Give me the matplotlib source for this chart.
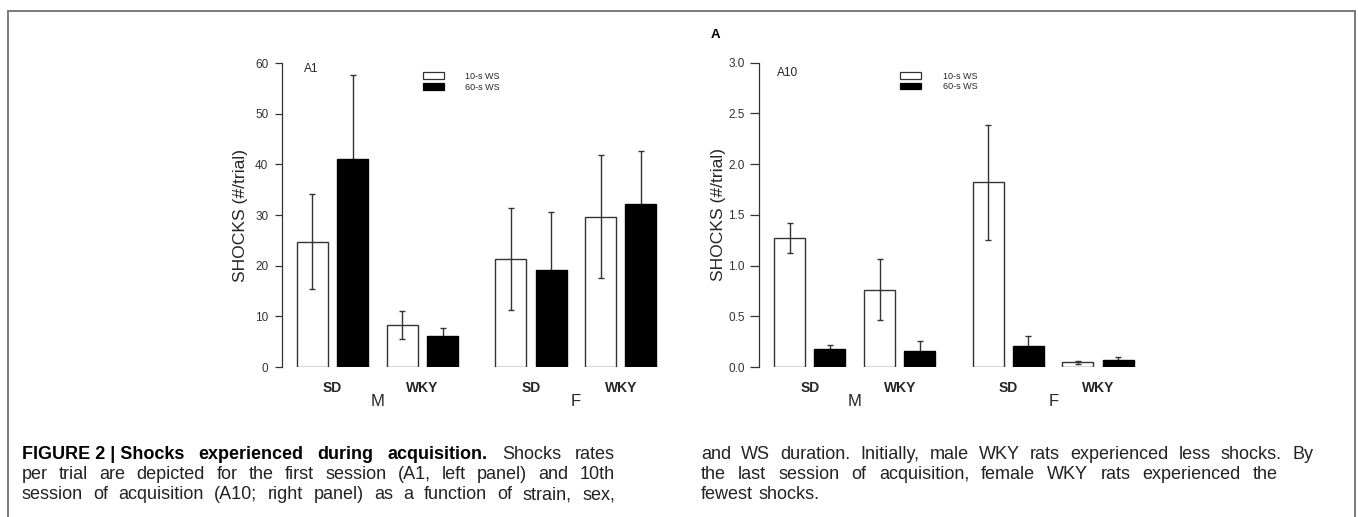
import numpy as np
import matplotlib
matplotlib.use('Agg')
import matplotlib.pyplot as plt
import matplotlib.patches as mpatches
from matplotlib.transforms import blended_transform_factory

plt.rcParams['font.family'] = ['Liberation Sans', 'DejaVu Sans']

# groups: M-SD, M-WKY, F-SD, F-WKY
sexes = ['M', 'F']
strains = ['SD', 'WKY', 'SD', 'WKY']
ws_labels = ['10-s WS', '60-s WS']

# A1 (first session), shocks per trial
a1_10s = [24.7, 8.3, 21.3, 29.7]
a1_10s_err = [9.4, 2.7, 10.1, 12.2]
a1_60s = [41.1, 6.2, 19.1, 32.2]
a1_60s_err = [16.6, 1.5, 11.5, 10.5]

# A10 (10th session)
a10_10s = [1.27, 0.76, 1.82, 0.046]
a10_10s_err = [0.15, 0.30, 0.57, 0.015]
a10_60s = [0.177, 0.155, 0.207, 0.066]
a10_60s_err = [0.04, 0.105, 0.10, 0.03]

caption_left = [
    [('FIGURE 2 | Shocks', 'bold'), ('experienced', 'bold'), ('during', 'bold'),
     ('acquisition.', 'bold'), ('Shocks', 'normal'), ('rates', 'normal')],
    'per trial are depicted for the first session (A1, left panel) and 10th',
    'session of acquisition (A10; right panel) as a function of strain, sex,',
]
caption_right = [
    'and WS duration. Initially, male WKY rats experienced less shocks. By',
    'the last session of acquisition, female WKY rats experienced the',
    'fewest shocks.',
]

W, H = 1358, 517
fig = plt.figure(figsize=(W / 100, H / 100), dpi=100)

# bar layout: width 1, 0.3 inside a pair, 0.6 between strains, 1.2 between sexes
pos_10, pos_60 = [], []
x = 0.0
for i in range(4):
    pos_10.append(x)
    pos_60.append(x + 1.3)
    x += 3.5 if i == 1 else 2.9
pos_10 = np.array(pos_10)
pos_60 = np.array(pos_60)
pair_mid = (pos_10 + pos_60) / 2
sex_mid = [(pos_10[0] + pos_60[1]) / 2, (pos_10[2] + pos_60[3]) / 2]

ink = '#262626'


def add_panel(x_left, y_top, y_bottom, v10, e10, v60, e60, ymax, step, fmt,
              tag, tag_x, tag_y, tick_len, tick_pad):
    ax = fig.add_axes([x_left / W, 1 - y_bottom / H, 386.9 / W, (y_bottom - y_top) / H])
    ax.bar(pos_10, v10, width=1.0, color='white', edgecolor='#333333', linewidth=1.0, zorder=2)
    ax.bar(pos_60, v60, width=1.0, color='black', edgecolor='black', linewidth=1.0, zorder=2)
    ax.errorbar(pos_10, v10, yerr=e10, fmt='none', ecolor='#333333', elinewidth=1.0,
                capsize=2.5, capthick=1.0, zorder=3)
    ax.errorbar(pos_60, v60, yerr=e60, fmt='none', ecolor='#333333', elinewidth=1.0,
                capsize=2.5, capthick=1.0, zorder=1)
    ax.set_xlim(-0.98, 11.5)
    ax.set_ylim(0, ymax)
    for s in ['top', 'right', 'bottom']:
        ax.spines[s].set_visible(False)
    ax.spines['left'].set_bounds(0, ymax)
    ax.spines['left'].set_color('#333333')
    ax.spines['left'].set_linewidth(0.9)
    ax.set_xticks([])
    ticks = np.arange(0, ymax + step / 2, step)
    ax.set_yticks(ticks)
    ax.set_yticklabels([fmt % t for t in ticks])
    ax.tick_params(axis='y', length=tick_len, width=0.9, pad=tick_pad, labelsize=8.5,
                   colors='#333333', labelcolor='#333333')
    ax.set_ylabel('SHOCKS (#/trial)', fontsize=12.6, color=ink)
    ax.yaxis.set_label_coords(-0.087, 0.5)
    ax.patch.set_alpha(0)

    tr = blended_transform_factory(ax.transData, ax.transAxes)
    dy = 1.0 / (y_bottom - y_top)
    for xm, lab in zip(pair_mid, strains):
        ax.text(xm, -21 * dy, lab, transform=tr, ha='center', va='center',
                fontsize=10, fontweight='bold', color=ink, clip_on=False)
    for xm, lab in zip(sex_mid, sexes):
        ax.text(xm, -35 * dy, lab, transform=tr, ha='center', va='center',
                fontsize=12, color=ink, clip_on=False)

    ax.text(tag_x, tag_y, tag, transform=ax.transAxes,
            ha='left', va='center', fontsize=8.6, color=ink)

    handles = [mpatches.Patch(facecolor='white', edgecolor='#333333', linewidth=0.9),
               mpatches.Patch(facecolor='black', edgecolor='black', linewidth=0.9)]
    ax.legend(handles, ws_labels, loc='upper left', bbox_to_anchor=(0.3645, 0.971),
              frameon=False, fontsize=6.5, borderpad=0, borderaxespad=0,
              handlelength=2.3, handleheight=0.7, handletextpad=2.4,
              labelspacing=0.2, labelcolor=ink)
    return ax


add_panel(282, 63, 367, a1_10s, a1_10s_err, a1_60s, a1_60s_err, 60, 10, '%d',
          'A1', 0.057, 0.980, 4.8, 5.0)
add_panel(759.3, 62.7, 367, a10_10s, a10_10s_err, a10_60s, a10_60s_err, 3.0, 0.5, '%.1f',
          'A10', 0.0465, 0.965, 6.2, 4.1)

fig.text(715 / W, 1 - 35 / H, 'A', ha='center', va='center', fontsize=9.5,
         fontweight='bold', color='black')

# frame around the figure
fig.add_artist(mpatches.Rectangle((7.8 / W, -0.05), (1355 - 7.8) / W, 1.05 - 11 / H,
                                  transform=fig.transFigure, fill=False,
                                  edgecolor='#6e6e6e', linewidth=1.3))

# caption, justified like the journal layout
renderer = fig.canvas.get_renderer()


def caption_line(words, x0, x1, y, justify=True):
    if isinstance(words, str):
        words = [(w, 'normal') for w in words.split()]
    arts = []
    for w, wt in words:
        arts.append(fig.text(0, 1 - y / H, w, fontsize=13, fontweight=wt,
                             color='black' if wt == 'bold' else '#222222', va='baseline'))
    widths = [a.get_window_extent(renderer).width for a in arts]
    if justify:
        gap = ((x1 - x0) - sum(widths)) / (len(arts) - 1)
    else:
        gap = 5.5
    xc = x0
    for a, wd in zip(arts, widths):
        a.set_x(xc / W)
        xc += wd + gap


baselines = [459.3, 479.3, 499.3]
for line, yb in zip(caption_left, baselines):
    caption_line(line, 21.7, 615, yb)
caption_line(caption_right[0], 701, 1313, baselines[0])
caption_line(caption_right[1], 701, 1278, baselines[1])
caption_line(caption_right[2], 701, 1313, baselines[2], justify=False)

fig.savefig('out.png', dpi=100)
